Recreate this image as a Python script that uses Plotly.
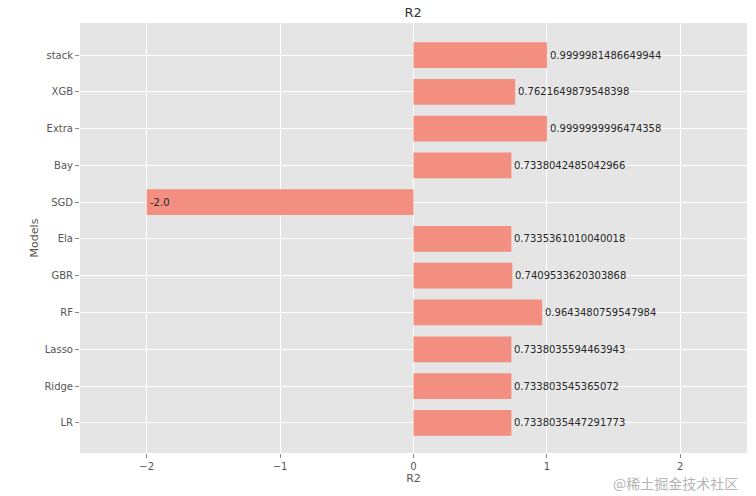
import plotly.graph_objects as go

models = ["LR", "Ridge", "Lasso", "RF", "GBR", "Ela", "SGD", "Bay", "Extra", "XGB", "stack"]
r2_values = [0.7338035447291773, 0.733803545365072, 0.7338035594463943, 0.9643480759547984,
             0.7409533620303868, 0.7335361010040018, -2.0, 0.7338042485042966,
             0.9999999996474358, 0.7621649879548398, 0.9999981486649944]
x_ticks = [-2, -1, 0, 1, 2]

font_family = "DejaVu Sans"
bar_color = "#F38F80"

fig = go.Figure()
fig.add_trace(go.Bar(
    x=r2_values, y=models, orientation="h",
    marker=dict(color=bar_color, line=dict(width=0)),
    width=0.7, showlegend=False,
))

for m, v in zip(models, r2_values):
    fig.add_annotation(x=v, y=m, text=str(v), showarrow=False,
                       xanchor="left", yanchor="middle", xshift=1,
                       font=dict(family=font_family, size=10, color="#262626"))

fig.add_annotation(text="@稀土掘金技术社区", xref="paper", yref="paper",
                   x=0.9895, y=-0.069, xanchor="right", yanchor="middle", showarrow=False,
                   font=dict(family="Noto Sans CJK SC", size=14, color="rgba(160,160,160,0.8)"))

fig.update_layout(
    width=756, height=496,
    margin=dict(l=80, r=9, t=23, b=43),
    paper_bgcolor="white", plot_bgcolor="#E5E5E5",
    font=dict(family=font_family, size=10, color="#555555"),
    title=dict(text="R2", x=0.5465, xanchor="center", y=1 - 12 / 496, yanchor="middle",
               font=dict(family=font_family, size=13, color="#333333")),
)
fig.update_xaxes(range=[-2.5, 2.5], tickvals=x_ticks, showgrid=True, gridcolor="white",
                 gridwidth=1, zeroline=False, ticks="outside", ticklen=4, tickcolor="#888888",
                 automargin=False,
                 title=dict(text="R2", standoff=2, font=dict(size=11, color="#555555")),
                 tickfont=dict(size=10, color="#555555"))
fig.update_yaxes(categoryorder="array", categoryarray=models, range=[-0.82, 10.87],
                 showgrid=True, gridcolor="white", gridwidth=1, ticks="outside", ticklen=4,
                 tickcolor="#888888", automargin=False,
                 title=dict(text="Models", standoff=3, font=dict(size=11, color="#555555")),
                 tickfont=dict(size=10, color="#555555"))

fig.write_html("out.html", config={"displayModeBar": False},
               post_script="document.body.style.margin='0';")
